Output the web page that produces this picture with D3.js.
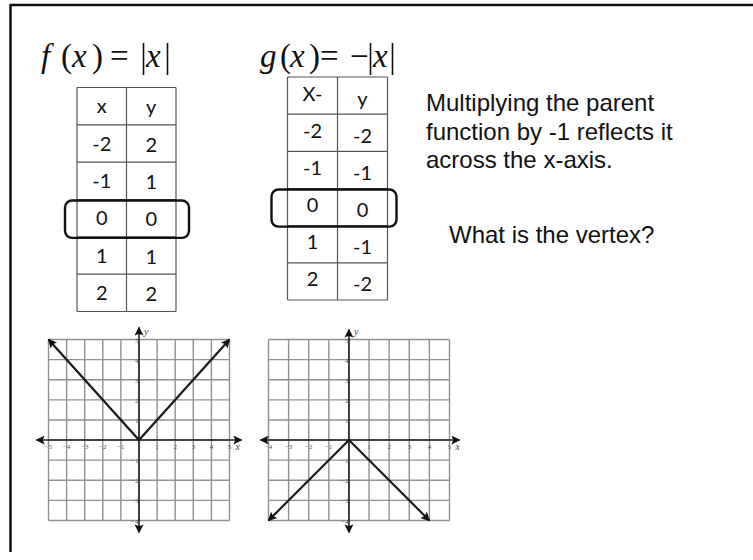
<!DOCTYPE html>
<html><head><meta charset="utf-8">
<script src="https://cdn.jsdelivr.net/npm/d3@7/dist/d3.min.js"></script>
<style>html,body{margin:0;padding:0;background:#fff;}svg{display:block;}</style>
</head><body>
<script>
// ---- data ----
const tableX = [-2, -1, 0, 1, 2];
const fValues = [2, 1, 0, 1, 2];
const gValues = [-2, -1, 0, -1, -2];
const headersF = ["x", "y"];
const headersG = ["X-", "y"];
const vertexX = 0;
const xTicksF = [-5, -4, -3, -2, -1, 1, 2, 3, 4, 5];
const xTicksG = [-4, -3, -2, -1, 1, 2, 3, 4, 5];
const yTicks = [5, 4, 3, 2, 1, -1, -2, -3, -4];
const fLineX = [-5, 0, 5], fLineY = [5, 0, 5];
const gLineX = [-4, 0, 4], gLineY = [-4, 0, -4];
const noteLines = ["Multiplying the parent", "function by -1 reflects it", "across the x-axis."];
const question = "What is the vertex?";

const W = 753, H = 560;
const svg = d3.select("body").append("svg").attr("width", W).attr("height", H);
const defs = svg.append("defs");
defs.append("marker").attr("id", "arr").attr("viewBox", "0 0 10 10")
  .attr("refX", 9).attr("refY", 5).attr("markerWidth", 9).attr("markerHeight", 9)
  .attr("markerUnits", "userSpaceOnUse").attr("orient", "auto-start-reverse")
  .append("path").attr("d", "M0,0 L10,5 L0,10 L2,5 z").attr("fill", "#111");

// frame
svg.append("line").attr("x1", 10).attr("x2", W).attr("y1", 5).attr("y2", 5).attr("stroke", "#111").attr("stroke-width", 2.5);
svg.append("line").attr("x1", 10.5).attr("x2", 10.5).attr("y1", 4).attr("y2", 552).attr("stroke", "#111").attr("stroke-width", 2.5);

// ---- formulas ----
const serif = "'Liberation Serif','Times New Roman',serif";
function formula(parts, bars) {
  const g = svg.append("g");
  parts.forEach(p => {
    g.append("text").attr("x", p[1]).attr("y", 67).text(p[0])
      .attr("font-family", serif).attr("font-size", 33)
      .attr("font-style", p[2] ? "italic" : "normal").attr("fill", "#111");
  });
  bars.forEach(b => g.append("line").attr("x1", b).attr("x2", b).attr("y1", 43).attr("y2", 75)
    .attr("stroke", "#111").attr("stroke-width", 1.6));
}
formula([["f", 41, true], ["(", 61, false], ["x", 72, true], [")", 92, false], ["=", 110, false], ["x", 146, true]], [143.5, 167.5]);
formula([["g", 260, true], ["(", 280, false], ["x", 290, true], [")", 309, false], ["=", 320, false], ["\u2212", 350, false], ["x", 373, true]], [370.5, 392.5]);

// ---- tables ----
const sans = "Lato,'Open Sans',sans-serif";
function table(x0, x1, y0, y1, headers, xs, ys, dyCols, pad) {
  const g = svg.append("g");
  const rows = ["h"].concat(xs.map((d, i) => i));
  const ry = d3.scaleBand().domain(rows).range([y0, y1]);
  const cx = d3.scaleBand().domain([0, 1]).range([x0, x1]);
  const st = "#555";
  const hl = d3.range(rows.length + 1).map(i => y0 + i * ry.bandwidth());
  g.selectAll("line.h").data(hl).join("line").attr("class", "h")
    .attr("x1", x0).attr("x2", x1).attr("y1", d => d).attr("y2", d => d).attr("stroke", st).attr("stroke-width", 1.2);
  g.selectAll("line.v").data([x0, x0 + cx.bandwidth(), x1]).join("line").attr("class", "v")
    .attr("x1", d => d).attr("x2", d => d).attr("y1", y0).attr("y2", y1).attr("stroke", st).attr("stroke-width", 1.2);
  const cells = [];
  cells.push({r: "h", c: 0, t: headers[0]}, {r: "h", c: 1, t: headers[1]});
  xs.forEach((v, i) => { cells.push({r: i, c: 0, t: String(v)}); cells.push({r: i, c: 1, t: String(ys[i])}); });
  g.selectAll("text.c").data(cells).join("text")
    .attr("x", d => cx(d.c) + cx.bandwidth() / 2)
    .attr("y", d => ry(d.r) + ry.bandwidth() / 2 + dyCols[d.c])
    .attr("text-anchor", "middle").attr("font-family", sans).attr("font-size", 20).attr("fill", "#111")
    .text(d => d.t);
  const vi = xs.indexOf(vertexX);
  g.append("rect").attr("x", x0 - pad[0]).attr("width", x1 - x0 + pad[0] + pad[1])
    .attr("y", ry(vi) + 1).attr("height", ry.bandwidth())
    .attr("rx", 7).attr("fill", "none").attr("stroke", "#111").attr("stroke-width", 2.4);
}
table(77, 176, 87.5, 311.5, headersF, tableX, fValues, [7, 8], [12, 13]);
table(287.5, 387.5, 77, 300, headersG, tableX, gValues, [5, 10], [16, 9]);

// ---- notes ----
const arial = "'Liberation Sans',Arial,sans-serif";
svg.append("g").selectAll("text").data(noteLines).join("text")
  .attr("x", 426).attr("y", (d, i) => 111 + i * 28.5).text(d => d)
  .attr("font-family", arial).attr("font-size", 24).attr("fill", "#111");
svg.append("text").attr("x", 449).attr("y", 243).text(question)
  .attr("font-family", arial).attr("font-size", 24).attr("fill", "#111");

// ---- graphs ----
function graph(xDom, xRange, lineX, lineY, xTicks, ext) {
  const g = svg.append("g");
  const x = d3.scaleLinear().domain(xDom).range(xRange);
  const y = d3.scaleLinear().domain([5, -4]).range([339.5, 520.5]);
  const gridc = "#909090";
  const xs = d3.range(xDom[0], xDom[1] + 1);
  const ys = d3.range(-4, 6);
  g.selectAll("line.gv").data(xs).join("line").attr("class", "gv")
    .attr("x1", d => x(d)).attr("x2", d => x(d)).attr("y1", y(5)).attr("y2", y(-4))
    .attr("stroke", gridc).attr("stroke-width", 1.4);
  g.selectAll("line.gh").data(ys).join("line").attr("class", "gh")
    .attr("x1", x(xDom[0])).attr("x2", x(xDom[1])).attr("y1", d => y(d)).attr("y2", d => y(d))
    .attr("stroke", gridc).attr("stroke-width", 1.4);
  // axes
  g.append("line").attr("x1", x(xDom[0]) - ext[0]).attr("x2", x(xDom[1]) + ext[1]).attr("y1", y(0)).attr("y2", y(0))
    .attr("stroke", "#222").attr("stroke-width", 1.6).attr("marker-start", "url(#arr)").attr("marker-end", "url(#arr)");
  g.append("line").attr("x1", x(0)).attr("x2", x(0)).attr("y1", y(5) - ext[2]).attr("y2", y(-4) + 12)
    .attr("stroke", "#222").attr("stroke-width", 1.6).attr("marker-start", "url(#arr)").attr("marker-end", "url(#arr)");
  // tick labels
  g.selectAll("text.xt").data(xTicks).join("text").attr("class", "xt")
    .attr("x", d => x(d)).attr("y", y(0) + 9).attr("text-anchor", "middle")
    .attr("font-family", serif).attr("font-size", 7).attr("fill", "#555").text(d => d < 0 ? "\u2212" + (-d) : d);
  g.selectAll("text.yt").data(yTicks).join("text").attr("class", "yt")
    .attr("x", x(0) - 0.5).attr("y", d => y(d) + 3).attr("text-anchor", "end")
    .attr("font-family", serif).attr("font-size", 7).attr("fill", "#555").text(d => d < 0 ? "\u2212" + (-d) : d);
  g.append("text").attr("x", x(xDom[1]) + 6).attr("y", y(0) + 10).text("x")
    .attr("font-family", serif).attr("font-style", "italic").attr("font-size", 10).attr("fill", "#444");
  g.append("text").attr("x", x(0) + 5).attr("y", y(5) - 5).text("y")
    .attr("font-family", serif).attr("font-style", "italic").attr("font-size", 10).attr("fill", "#444");
  // function line
  const pts = lineX.map((v, i) => [v, lineY[i]]);
  g.append("path").attr("d", d3.line().x(d => x(d[0])).y(d => y(d[1]))(pts))
    .attr("fill", "none").attr("stroke", "#1a1a1a").attr("stroke-width", 2.2)
    .attr("marker-start", "url(#arr)").attr("marker-end", "url(#arr)");
}
graph([-5, 5], [48.5, 229.5], fLineX, fLineY, xTicksF, [12, 12, 12]);
graph([-4, 5], [268.5, 449.5], gLineX, gLineY, xTicksG, [8, 10, 10]);
</script>
</body></html>
